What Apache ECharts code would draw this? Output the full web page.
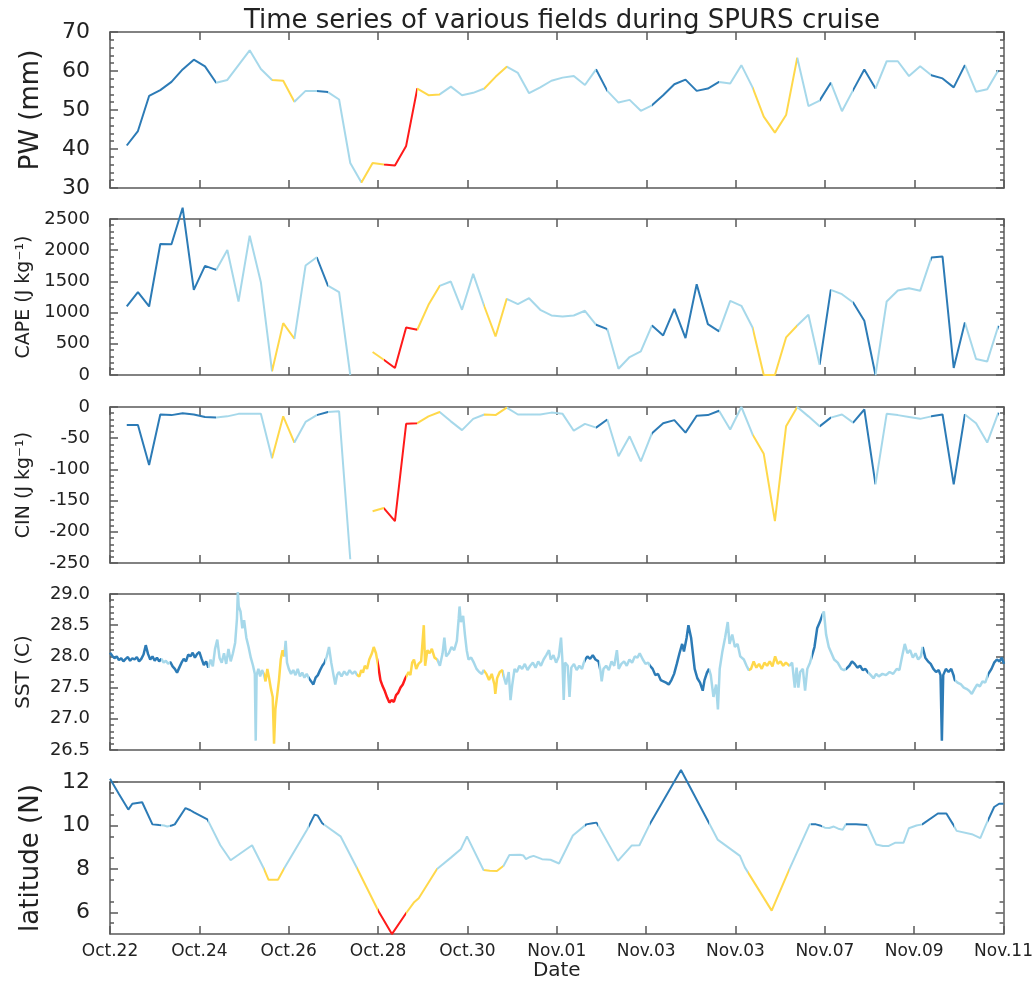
<!DOCTYPE html>
<html lang="en">
<head>
<meta charset="UTF-8">
<title>Time series of various fields during SPURS cruise</title>
<script src="https://cdn.jsdelivr.net/npm/echarts@6.0.0/dist/echarts.min.js"></script>
<style>
html, body { margin: 0; padding: 0; background: #fff; }
#chart { width: 1036px; height: 982px; }
</style>
</head>
<body>
<div id="chart"></div>
<script>
// x axis runs in days since Oct.22 00:00
const dateLabels = ['Oct.22', 'Oct.24', 'Oct.26', 'Oct.28', 'Oct.30', 'Nov.01', 'Nov.03', 'Nov.03', 'Nov.07', 'Nov.09', 'Nov.11'];

// 6-hourly soundings
const sondeDays = [
  0.375, 0.625, 0.875,
  1.125, 1.375, 1.625, 1.875, 2.125, 2.375, 2.625, 2.875,
  3.125, 3.375, 3.625, 3.875, 4.125, 4.375, 4.625, 4.875,
  5.125, 5.375, 5.625, 5.875, 6.125, 6.375, 6.625, 6.875,
  7.125, 7.375, 7.625, 7.875, 8.125, 8.375, 8.625, 8.875,
  9.125, 9.375, 9.625, 9.875, 10.125, 10.375, 10.625, 10.875,
  11.125, 11.375, 11.625, 11.875, 12.125, 12.375, 12.625, 12.875,
  13.125, 13.375, 13.625, 13.875, 14.125, 14.375, 14.625, 14.875,
  15.125, 15.375, 15.625, 15.875, 16.125, 16.375, 16.625, 16.875,
  17.125, 17.375, 17.625, 17.875, 18.125, 18.375, 18.625, 18.875,
  19.125, 19.375, 19.625, 19.875
];
const pw = [
  40.9, 44.6, 53.6,
  55.1, 57.2, 60.4, 62.9, 61.2, 57.0, 57.7, 61.5,
  65.3, 60.5, 57.7, 57.5, 52.1, 54.9, 54.9, 54.6,
  52.7, 36.4, 31.4, 36.4, 36.0, 35.8, 40.8, 55.5,
  53.8, 54.0, 56.0, 53.8, 54.4, 55.5, 58.5, 61.1,
  59.5, 54.3, 55.8, 57.5, 58.3, 58.7, 56.4, 60.4,
  54.9, 51.9, 52.6, 49.8, 51.2, 53.8, 56.6, 57.8,
  54.9, 55.5, 57.2, 56.8, 61.5, 55.8, 48.3, 44.2,
  48.7, 63.4, 51.0, 52.4, 57.0, 49.7, 55.1, 60.4,
  55.5, 62.5, 62.5, 58.7, 61.2, 58.9, 58.1, 55.8,
  61.5, 54.7, 55.3, 60.2
];
const cape = [
  1098, 1327, 1098,
  2100, 2095, 2681, 1365, 1748, 1684, 2004, 1178,
  2233, 1487, 59, 831, 581, 1754, 1887, 1434,
  1327, 0, null, 368, 245, 112, 762, 725,
  1125, 1428, 1498, 1045, 1620, 1098, 618, 1221,
  1135, 1231, 1045, 954, 938, 954, 1029, 805,
  736, 101, 288, 378, 794, 634, 1061, 592,
  1455, 815, 698, 1189, 1109, 762, 0, 0,
  602, 794, 965, 165, 1365, 1295, 1162, 869,
  0, 1178, 1354, 1391, 1349, 1882, 1898, 112,
  842, 256, 218, 789
];
const cin = [
  -29, -29, -93,
  -12, -13, -10, -12, -16, -17, -15, -11,
  -11, -11, -82, -15, -57, -24, -13, -8,
  -7, -244, null, -167, -162, -183, -27, -26,
  -15, -8, -23, -37, -19, -12, -13, -1,
  -12, -12, -12, -9, -11, -38, -27, -33,
  -20, -79, -47, -87, -42, -26, -21, -41,
  -14, -13, -6, -36, 0, -44, -75, -183,
  -31, 0, -15, -31, -17, -12, -25, -4,
  -124, -11, -13, -16, -19, -15, -12, -124,
  -12, -26, -57, -9
];

// ship SST [day, degC]
const sst = [
  [0, 28.06], [0.05, 28.01], [0.1, 27.97], [0.15, 28.0], [0.2, 27.94], [0.25, 27.97], [0.3, 27.92], [0.35, 27.96],
  [0.4, 27.99], [0.45, 27.93], [0.5, 27.97], [0.55, 27.95], [0.6, 27.99], [0.65, 27.92], [0.7, 27.96], [0.75, 28.03],
  [0.8, 28.18], [0.85, 28.04], [0.9, 27.95], [0.95, 28.0], [1.0, 27.93], [1.05, 27.98], [1.1, 27.92], [1.15, 27.96],
  [1.2, 27.9], [1.25, 27.93], [1.3, 27.88], [1.35, 27.91], [1.4, 27.84], [1.45, 27.8], [1.5, 27.74], [1.55, 27.82],
  [1.6, 27.9], [1.65, 27.96], [1.7, 27.92], [1.75, 28.03], [1.8, 28.0], [1.85, 28.06], [1.9, 27.98], [1.95, 28.04],
  [2.0, 28.07], [2.05, 27.96], [2.1, 27.86], [2.15, 27.92], [2.2, 27.82], [2.25, 27.95], [2.3, 27.84], [2.35, 28.12],
  [2.4, 28.27], [2.45, 27.98], [2.5, 27.9], [2.55, 28.05], [2.6, 27.88], [2.65, 28.12], [2.7, 27.92], [2.75, 28.05],
  [2.8, 28.22], [2.84, 28.6], [2.86, 29.03], [2.88, 28.8], [2.92, 28.72], [2.96, 28.45], [3.0, 28.58], [3.05, 28.3],
  [3.1, 28.15], [3.15, 27.98], [3.2, 27.85], [3.24, 27.72], [3.26, 26.65], [3.28, 27.7], [3.32, 27.8], [3.36, 27.68],
  [3.4, 27.78], [3.44, 27.72], [3.48, 27.6], [3.52, 27.8], [3.56, 27.65], [3.6, 27.48], [3.64, 27.35], [3.67, 26.6],
  [3.7, 27.15], [3.74, 27.38], [3.78, 27.62], [3.82, 27.95], [3.86, 28.1], [3.9, 28.0], [3.93, 28.25], [3.96, 27.9],
  [4.0, 27.8], [4.05, 27.72], [4.1, 27.78], [4.15, 27.7], [4.2, 27.8], [4.25, 27.68], [4.3, 27.74], [4.35, 27.66],
  [4.4, 27.72], [4.45, 27.65], [4.5, 27.6], [4.55, 27.55], [4.6, 27.66], [4.65, 27.7], [4.7, 27.78], [4.75, 27.85],
  [4.8, 27.9], [4.85, 28.0], [4.9, 28.15], [4.95, 27.9], [5.0, 27.7], [5.04, 27.55], [5.08, 27.7], [5.12, 27.75],
  [5.18, 27.68], [5.24, 27.76], [5.3, 27.7], [5.36, 27.78], [5.42, 27.72], [5.48, 27.76], [5.53, 27.7], [5.58, 27.68],
  [5.62, 27.78], [5.66, 27.74], [5.7, 27.85], [5.75, 27.8], [5.8, 27.95], [5.86, 28.05], [5.9, 28.15], [5.95, 28.05],
  [6.0, 27.85], [6.05, 27.62], [6.1, 27.52], [6.15, 27.44], [6.2, 27.34], [6.25, 27.26], [6.3, 27.3], [6.35, 27.27],
  [6.4, 27.38], [6.45, 27.42], [6.5, 27.5], [6.55, 27.55], [6.6, 27.64], [6.63, 27.68], [6.68, 27.75], [6.72, 27.7],
  [6.76, 27.9], [6.8, 27.95], [6.85, 27.8], [6.9, 27.88], [6.96, 27.92], [7.02, 28.5], [7.05, 27.85], [7.1, 28.1],
  [7.15, 28.05], [7.2, 28.12], [7.26, 27.98], [7.32, 27.95], [7.38, 27.85], [7.44, 28.05], [7.48, 28.3], [7.52, 28.0],
  [7.58, 28.05], [7.64, 28.15], [7.7, 28.1], [7.76, 28.25], [7.8, 28.6], [7.82, 28.8], [7.85, 28.55], [7.9, 28.65],
  [7.94, 28.35], [7.98, 28.1], [8.02, 27.95], [8.08, 27.98], [8.14, 27.9], [8.2, 27.8], [8.26, 27.75], [8.32, 27.72],
  [8.36, 27.78], [8.42, 27.72], [8.48, 27.62], [8.54, 27.72], [8.6, 27.55], [8.62, 27.4], [8.66, 27.65], [8.72, 27.75],
  [8.78, 27.78], [8.8, 27.7], [8.86, 27.55], [8.92, 27.75], [8.96, 27.3], [9.0, 27.55], [9.05, 27.8], [9.1, 27.75],
  [9.16, 27.85], [9.22, 27.8], [9.28, 27.88], [9.34, 27.78], [9.4, 27.85], [9.46, 27.9], [9.52, 27.82], [9.58, 27.92],
  [9.64, 27.85], [9.7, 27.95], [9.76, 28.02], [9.82, 28.1], [9.86, 27.95], [9.92, 28.02], [9.98, 27.9], [10.04, 28.0],
  [10.09, 28.3], [10.12, 27.95], [10.15, 27.3], [10.18, 27.9], [10.24, 27.85], [10.28, 27.35], [10.32, 27.82], [10.38, 27.88],
  [10.44, 27.78], [10.5, 27.85], [10.56, 27.8], [10.6, 27.9], [10.63, 27.95], [10.68, 28.0], [10.74, 27.96], [10.8, 28.02],
  [10.86, 27.95], [10.93, 27.92], [10.97, 27.78], [11.0, 27.6], [11.04, 27.8], [11.1, 27.85], [11.16, 27.78], [11.22, 27.92],
  [11.28, 27.85], [11.34, 28.1], [11.38, 27.8], [11.44, 27.88], [11.5, 27.92], [11.56, 27.85], [11.62, 27.95], [11.68, 27.9],
  [11.74, 28.0], [11.8, 27.98], [11.85, 28.05], [11.92, 27.95], [11.98, 27.88], [12.04, 27.9], [12.08, 27.85], [12.14, 27.8],
  [12.2, 27.7], [12.26, 27.72], [12.32, 27.62], [12.38, 27.6], [12.44, 27.58], [12.5, 27.55], [12.56, 27.62], [12.62, 27.72],
  [12.68, 27.88], [12.74, 28.05], [12.8, 28.2], [12.84, 28.08], [12.9, 28.3], [12.94, 28.5], [12.97, 28.48], [13.0, 28.3],
  [13.04, 28.05], [13.08, 27.8], [13.14, 27.65], [13.2, 27.58], [13.26, 27.45], [13.3, 27.62], [13.36, 27.75], [13.4, 27.8],
  [13.44, 27.7], [13.5, 27.35], [13.56, 27.55], [13.6, 27.15], [13.64, 27.8], [13.7, 28.08], [13.76, 28.3], [13.82, 28.55],
  [13.86, 28.2], [13.92, 28.35], [13.98, 28.15], [14.04, 28.2], [14.1, 28.0], [14.18, 27.95], [14.24, 27.85], [14.29, 27.78],
  [14.34, 27.8], [14.4, 27.92], [14.46, 27.82], [14.52, 27.88], [14.58, 27.8], [14.64, 27.9], [14.7, 27.85], [14.76, 27.92],
  [14.82, 27.84], [14.88, 28.0], [14.94, 27.88], [15.0, 27.92], [15.06, 27.85], [15.12, 27.9], [15.2, 27.85], [15.26, 27.9],
  [15.32, 27.5], [15.36, 27.82], [15.4, 27.5], [15.44, 27.75], [15.5, 27.8], [15.55, 27.45], [15.6, 27.8], [15.66, 27.9],
  [15.7, 28.0], [15.76, 28.15], [15.82, 28.45], [15.88, 28.55], [15.93, 28.65], [15.97, 28.72], [16.02, 28.35], [16.08, 28.15],
  [16.14, 28.05], [16.2, 27.95], [16.28, 27.9], [16.36, 27.8], [16.42, 27.78], [16.47, 27.8], [16.54, 27.85], [16.6, 27.92],
  [16.66, 27.88], [16.72, 27.82], [16.78, 27.85], [16.84, 27.78], [16.9, 27.8], [16.95, 27.75], [17.02, 27.7], [17.08, 27.65],
  [17.14, 27.72], [17.2, 27.68], [17.28, 27.72], [17.36, 27.7], [17.44, 27.75], [17.52, 27.72], [17.6, 27.8], [17.66, 27.78],
  [17.72, 28.0], [17.78, 28.2], [17.84, 28.05], [17.9, 28.1], [17.96, 27.98], [18.02, 28.05], [18.08, 27.95], [18.14, 28.0],
  [18.18, 28.15], [18.24, 27.98], [18.3, 27.92], [18.36, 27.88], [18.42, 27.8], [18.48, 27.75], [18.54, 27.78], [18.58, 27.7],
  [18.61, 26.65], [18.64, 27.7], [18.7, 27.8], [18.76, 27.75], [18.82, 27.8], [18.87, 27.7], [18.9, 27.62], [18.96, 27.58],
  [19.04, 27.55], [19.1, 27.5], [19.16, 27.48], [19.22, 27.45], [19.28, 27.4], [19.34, 27.48], [19.4, 27.55], [19.46, 27.52],
  [19.52, 27.6], [19.58, 27.58], [19.65, 27.72], [19.72, 27.8], [19.78, 27.9], [19.84, 27.95], [19.9, 27.92], [19.95, 27.98],
  [20.0, 27.88]
];

// ship track latitude [day, degN]
const lat = [
  [0, 12.15], [0.2, 11.45], [0.41, 10.73], [0.5, 11.0], [0.72, 11.07], [0.95, 10.05], [1.1, 10.02], [1.21, 10.0],
  [1.28, 9.95], [1.38, 10.0], [1.45, 10.05], [1.69, 10.8], [1.8, 10.7], [1.88, 10.6], [2.18, 10.28], [2.47, 9.09],
  [2.7, 8.4], [3.18, 9.09], [3.44, 8.03], [3.55, 7.5], [3.76, 7.5], [3.9, 8.03], [4.41, 9.8], [4.58, 10.5],
  [4.65, 10.45], [4.75, 10.1], [5.16, 9.5], [5.53, 8.03], [6.01, 6.05], [6.31, 5.0], [6.63, 5.97], [6.8, 6.45],
  [6.91, 6.65], [7.32, 8.0], [7.63, 8.52], [7.85, 8.9], [7.99, 9.5], [8.36, 7.95], [8.5, 7.92], [8.66, 7.9],
  [8.81, 8.15], [8.94, 8.64], [9.18, 8.65], [9.25, 8.62], [9.31, 8.45], [9.4, 8.55], [9.48, 8.6], [9.67, 8.45],
  [9.86, 8.42], [10.05, 8.25], [10.36, 9.54], [10.66, 10.05], [10.8, 10.1], [10.89, 10.13], [10.93, 10.05], [11.37, 8.37],
  [11.68, 9.08], [11.85, 9.09], [12.08, 10.05], [12.78, 12.55], [13.41, 10.1], [13.6, 9.35], [14.1, 8.6], [14.21, 8.07],
  [14.81, 6.08], [15.21, 8.0], [15.66, 10.05], [15.8, 10.05], [15.89, 10.0], [16.0, 9.9], [16.1, 9.88], [16.2, 9.95],
  [16.3, 9.85], [16.4, 9.8], [16.47, 10.05], [16.7, 10.05], [16.95, 10.02], [17.15, 9.12], [17.3, 9.05], [17.42, 9.05],
  [17.57, 9.2], [17.76, 9.2], [17.88, 9.87], [18.05, 10.0], [18.18, 10.05], [18.53, 10.55], [18.72, 10.55], [18.87, 10.05],
  [18.95, 9.75], [19.29, 9.6], [19.48, 9.42], [19.6, 10.0], [19.79, 10.85], [19.9, 11.0], [20.0, 11.0]
];

// regime classification along the cruise: D dark blue, L light blue, Y yellow, R red
const regimeEdges = [0, 1.15, 1.35, 2.2, 3.44, 3.9, 4.45, 4.8, 5.53, 6.0, 6.63, 7.32, 8.36, 8.8, 10.63, 10.93,
  12.08, 13.4, 14.29, 15.2, 15.7, 15.93, 16.47, 16.95, 18.18, 18.9, 19.65, 20];
const regimeKinds = ['D', 'L', 'D', 'L', 'Y', 'L', 'D', 'L', 'Y', 'R', 'Y', 'L', 'Y', 'L', 'D', 'L',
  'D', 'L', 'Y', 'L', 'D', 'L', 'D', 'L', 'D', 'L', 'D'];

const kindColor = { D: '#2c7bb6', L: '#a6d8ea', Y: '#ffd84a', R: '#ff1a1a' };

function regimeAt(t) {
  for (let i = 0; i < regimeKinds.length; i++) {
    if (t < regimeEdges[i + 1]) return regimeKinds[i];
  }
  return regimeKinds[regimeKinds.length - 1];
}

// continuous series change colour exactly at the regime edges
const trackPieces = regimeKinds.map((k, i) => ({
  gte: i === 0 ? -1 : regimeEdges[i],
  lt: i === regimeKinds.length - 1 ? 21 : regimeEdges[i + 1],
  color: kindColor[k]
}));
// soundings: a segment keeps the regime of the sounding it starts from
const sondePieces = sondeDays.map((t, i) => ({
  gte: i === 0 ? -1 : t,
  lt: i === sondeDays.length - 1 ? 21 : sondeDays[i + 1],
  color: kindColor[regimeAt(t)]
}));

const font = 'DejaVu Sans';
const ink = '#222';
const frame = { color: '#5a5a5a', width: 1.5 };

const panels = [
  { name: 'PW (mm)', min: 30, max: 70, interval: 10, minor: 5, labelSize: 22, nameSize: 26, nameGap: 66 },
  { name: 'CAPE (J kg\u207B\u00B9)', min: 0, max: 2500, interval: 500, minor: 5, labelSize: 18, nameSize: 19, nameGap: 76 },
  { name: 'CIN (J kg\u207B\u00B9)', min: -250, max: 0, interval: 50, minor: 5, labelSize: 18, nameSize: 19, nameGap: 76 },
  { name: 'SST (C)', min: 26.5, max: 29, interval: 0.5, minor: 5, labelSize: 18, nameSize: 20, nameGap: 76, digits: 1 },
  { name: 'latitude (N)', min: 5, max: 12, interval: 1, minor: 2, labelSize: 22, nameSize: 26, nameGap: 66, major: [6, 8, 10, 12] }
];
const gridTops = [32, 219, 407, 594, 782];
const lineWidths = [2, 2, 2, 2.5, 2];

const grids = [], xAxes = [], yAxes = [];
panels.forEach((p, i) => {
  const last = i === panels.length - 1;
  grids.push({ left: 110, right: 32, top: gridTops[i], height: 156 });

  const xBase = {
    type: 'value', gridIndex: i, min: 0, max: 20, interval: 2,
    axisLine: { onZero: false, lineStyle: frame },
    axisTick: { inside: true, length: 8, lineStyle: frame },
    splitLine: { show: false }
  };
  xAxes.push(Object.assign({}, xBase, {
    position: 'bottom',
    axisLabel: {
      show: last, margin: 9, fontSize: 17, fontFamily: font, color: ink,
      formatter: v => dateLabels[Math.round(v / 2)]
    },
    name: last ? 'Date' : '', nameLocation: 'middle', nameGap: 25,
    nameTextStyle: { fontSize: 20, fontFamily: font, color: ink }
  }));
  xAxes.push(Object.assign({}, xBase, { position: 'top', axisLabel: { show: false } }));

  const yBase = {
    type: 'value', gridIndex: i, min: p.min, max: p.max, interval: p.interval,
    axisLine: { onZero: false, lineStyle: frame },
    axisTick: { inside: true, length: 8, lineStyle: frame },
    minorTick: { show: true, splitNumber: p.minor, length: 4, lineStyle: frame },
    splitLine: { show: false }
  };
  if (p.major) yBase.axisTick.customValues = p.major;
  yAxes.push(Object.assign({}, yBase, {
    position: 'left',
    axisLabel: {
      margin: 20, fontSize: p.labelSize, fontFamily: font, color: ink,
      customValues: p.major,
      formatter: v => p.digits ? v.toFixed(p.digits) : String(v)
    },
    name: p.name, nameLocation: 'middle', nameGap: p.nameGap,
    nameTextStyle: { fontSize: p.nameSize, fontFamily: font, color: ink }
  }));
  yAxes.push(Object.assign({}, yBase, { position: 'right', axisLabel: { show: false } }));
});

function lineSeries(i, data) {
  return {
    type: 'line', xAxisIndex: 2 * i, yAxisIndex: 2 * i, data: data,
    symbol: 'none', clip: false, connectNulls: false,
    lineStyle: { width: lineWidths[i] }
  };
}

const option = {
  animation: false,
  backgroundColor: '#fff',
  title: {
    text: 'Time series of various fields during SPURS cruise',
    left: 557, top: 3, textAlign: 'center',
    textStyle: { fontSize: 26, fontWeight: 'normal', fontFamily: font, color: ink }
  },
  grid: grids,
  xAxis: xAxes,
  yAxis: yAxes,
  visualMap: [
    { type: 'piecewise', show: false, dimension: 0, seriesIndex: [0, 1, 2], pieces: sondePieces },
    { type: 'piecewise', show: false, dimension: 0, seriesIndex: [3, 4], pieces: trackPieces }
  ],
  series: [
    lineSeries(0, sondeDays.map((t, k) => [t, pw[k]])),
    lineSeries(1, sondeDays.map((t, k) => [t, cape[k]])),
    lineSeries(2, sondeDays.map((t, k) => [t, cin[k]])),
    lineSeries(3, sst),
    lineSeries(4, lat)
  ]
};

const chart = echarts.init(document.getElementById('chart'));
chart.setOption(option);
</script>
</body>
</html>
